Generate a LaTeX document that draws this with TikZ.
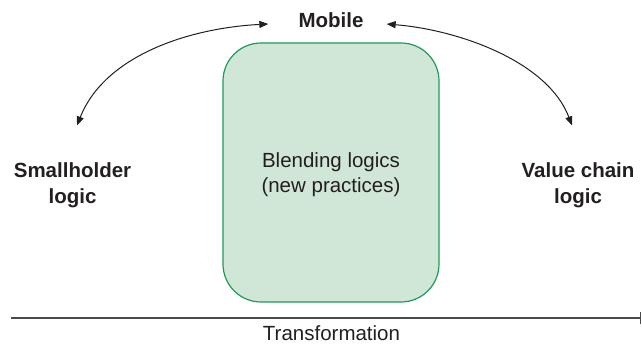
\documentclass[tikz,border=0pt]{standalone}
\usepackage{fontspec}
\setmainfont{Liberation Sans}
\usetikzlibrary{arrows.meta}

\definecolor{ink}{HTML}{231F20}
\definecolor{blendfill}{HTML}{D0E6D6}
\definecolor{blendline}{HTML}{1F9A58}
\definecolor{axisgray}{HTML}{4A4A4A}

\tikzset{
  lbl/.style={inner sep=0pt, text=ink, font=\fontsize{20.5}{25.5}\selectfont},
  boldlbl/.style={lbl, font=\fontsize{20.5}{25.5}\selectfont\bfseries, align=center},
  blendbox/.style={draw=blendline, line width=1.2pt, fill=blendfill, rounded corners=38pt},
  swing/.style={draw=ink, line width=1pt, {Triangle[length=9pt,width=7pt]}-{Triangle[length=9pt,width=7pt]}},
  axisline/.style={draw=axisgray, line width=1.5pt, -{Bar[width=12pt,line width=1.5pt]}}
}

\begin{document}
\begin{tikzpicture}[x=1pt, y=-1pt]
  \useasboundingbox (0,0) rectangle (642,344);

  % central blending box
  \draw[blendbox] (223,43) rectangle (439,302);
  \node[lbl, align=center] (blend) at (331,174.5) {Blending logics\\(new practices)};

  % the three logics
  \node[boldlbl, anchor=base] (mobile) at (331,28) {Mobile};
  \node[boldlbl] (small) at (72.5,185) {Smallholder\\logic};
  \node[boldlbl] (value) at (578,185) {Value chain\\logic};

  % two-way swings between the logics
  \draw[swing] ([xshift=-30pt,yshift=4pt]mobile.base west)
     .. controls (190,28) and (105,55) ..
     ([xshift=4.5pt,yshift=37pt]small.north);
  \draw[swing] ([xshift=23pt,yshift=4pt]mobile.base east)
     .. controls (460,30) and (548,62) ..
     ([xshift=-6pt,yshift=37pt]value.north);

  % transformation axis
  \coordinate (axstart) at (11,318);
  \coordinate (axend) at (641,318);
  \draw[axisline] (axstart) -- (axend);
  \node[lbl, anchor=base] (trans) at (331.5,340.5) {Transformation};
\end{tikzpicture}
\end{document}
